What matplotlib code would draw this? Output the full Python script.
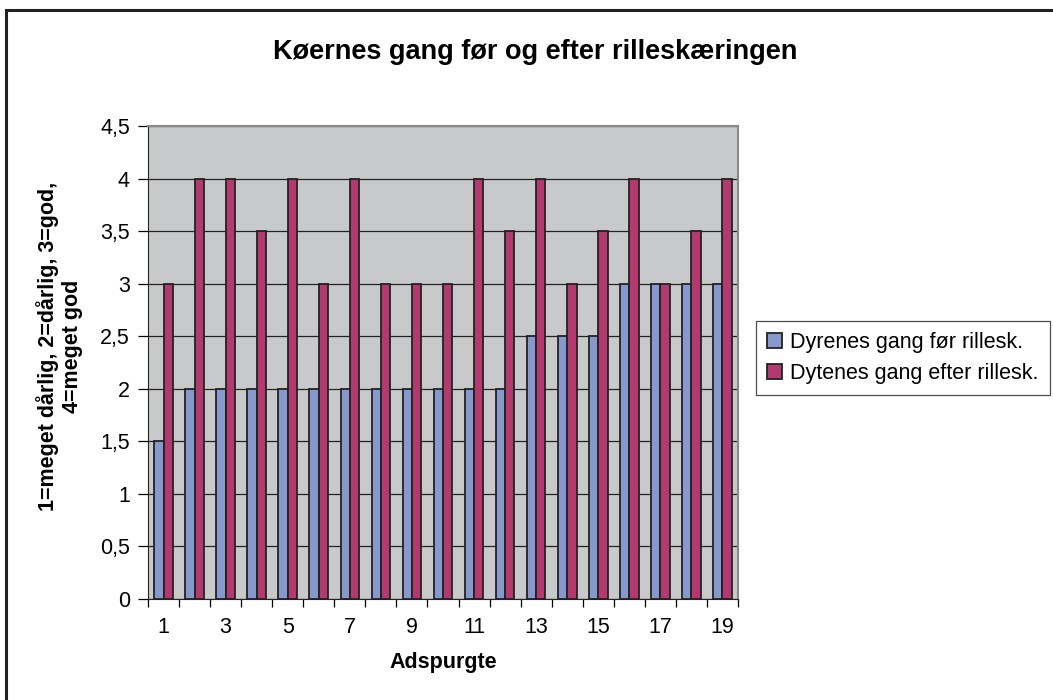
import matplotlib.pyplot as plt
import numpy as np
from matplotlib.patches import Rectangle

plt.rcParams['font.family'] = ['Liberation Sans', 'DejaVu Sans']

respondenter = np.arange(1, 20)
foer = [1.5, 2, 2, 2, 2, 2, 2, 2, 2, 2, 2, 2, 2.5, 2.5, 2.5, 3, 3, 3, 3]
efter = [3, 4, 4, 3.5, 4, 3, 4, 3, 3, 3, 4, 3.5, 4, 3, 3.5, 4, 3, 3.5, 4]
y_ticks = [0, 0.5, 1, 1.5, 2, 2.5, 3, 3.5, 4, 4.5]
y_labels = ['0', '0,5', '1', '1,5', '2', '2,5', '3', '3,5', '4', '4,5']
x_labels = [str(i) for i in respondenter[::2]]

blaa = '#8798CC'
roed = '#B33A6E'
fs = 15.5

fig = plt.figure(figsize=(10.53, 7.0), dpi=100)
# ydre ramme
fig.patches.append(Rectangle((6/1053, -0.05), 1.2, 1 - 10/700 + 0.05, transform=fig.transFigure,
                             fill=False, edgecolor='#222222', linewidth=2.2, zorder=0))

ax = fig.add_axes([148/1053, 101/700, 590/1053, 473/700])
ax.set_facecolor('#C8C9CB')
b = 0.3
ax.bar(respondenter - b/2, foer, width=b, color=blaa, edgecolor='#222222', linewidth=1.3,
       label='Dyrenes gang før rillesk.', zorder=3)
ax.bar(respondenter + b/2, efter, width=b, color=roed, edgecolor='#222222', linewidth=1.3,
       label='Dytenes gang efter rillesk.', zorder=3)

ax.set_xlim(0.5, 19.5)
ax.set_ylim(0, 4.5)
ax.set_yticks(y_ticks)
ax.set_yticklabels(y_labels, fontsize=fs)
ax.yaxis.grid(True, color='#222222', linewidth=0.9, zorder=1)
ax.set_xticks(np.arange(0.5, 20, 1))
ax.set_xticklabels([])
ax.set_xticks(respondenter[::2], minor=True)
ax.set_xticklabels(x_labels, minor=True, fontsize=fs)
ax.tick_params(axis='x', which='minor', length=0, pad=13)
ax.tick_params(axis='x', which='major', length=6, direction='out', width=0.9)
ax.tick_params(axis='y', length=7, width=0.9, pad=6)
for s in ['left', 'bottom']:
    ax.spines[s].set_color('#222222')
for s in ['top', 'right']:
    ax.spines[s].set_color('#8a8a8a')
    ax.spines[s].set_linewidth(1.5)

ax.set_xlabel('Adspurgte', fontsize=fs, fontweight='bold', labelpad=10)
ax.set_ylabel('1=meget dårlig, 2=dårlig, 3=god,\n4=meget god', fontsize=fs,
              fontweight='bold', labelpad=12, y=0.535)
fig.text(535/1053, 1 - 52/700, 'Køernes gang før og efter rilleskæringen',
         ha='center', va='center', fontsize=19.5, fontweight='bold')

leg = fig.legend(loc='center left', bbox_to_anchor=(756/1053, 1 - 358/700), fontsize=fs,
                 frameon=True, fancybox=False, edgecolor='#222222', handlelength=0.7,
                 handleheight=0.7, handletextpad=0.4, borderpad=0.5, labelspacing=0.45,
                 borderaxespad=0)
leg.get_frame().set_linewidth(0.9)

fig.savefig('out.png', dpi=100)
